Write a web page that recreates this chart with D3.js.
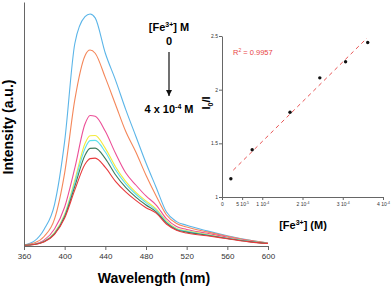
<!DOCTYPE html>
<html>
<head>
<meta charset="utf-8">
<script src="https://cdn.jsdelivr.net/npm/d3@7"></script>
<style>
  body { margin: 0; background: #fff; }
  svg { display: block; font-family: "Liberation Sans", Arial, sans-serif; }
</style>
</head>
<body>
<div id="chart"></div>
<script>
// wavelengths (nm) of the sampled points
var wavelengths = [360, 370, 380, 390, 400, 410, 420, 425, 430, 440, 450, 460, 470, 480, 490, 500, 510, 520, 540, 560, 580, 600];

// emission spectra, 0 -> 4e-4 M Fe3+
var blue   = [5, 20, 70, 170, 430, 830, 940, 951, 935, 790, 680, 560, 450, 340, 240, 140, 100, 85, 62, 42, 25, 12];
var orange = [4, 12, 40, 110, 300, 600, 780, 803, 790, 690, 580, 470, 385, 290, 205, 128, 92, 78, 58, 40, 24, 12];
var pink   = [3, 8, 25, 70, 160, 320, 500, 535, 532, 470, 380, 300, 250, 205, 168, 112, 80, 68, 52, 36, 22, 11];
var yellow = [3, 7, 20, 55, 130, 270, 420, 452, 453, 400, 325, 265, 220, 185, 152, 103, 72, 62, 48, 33, 20, 10];
var cyan   = [3, 7, 20, 52, 125, 260, 400, 432, 433, 385, 312, 255, 212, 178, 147, 99, 70, 60, 46, 32, 20, 10];
var green  = [3, 6, 18, 50, 120, 245, 372, 400, 401, 358, 292, 240, 200, 168, 140, 95, 67, 57, 44, 31, 19, 10];
var red    = [3, 6, 17, 48, 115, 230, 335, 358, 360, 322, 265, 222, 187, 157, 135, 90, 65, 53, 42, 30, 18, 10];

var spectra = [blue, orange, pink, yellow, cyan, green, red];
var spectraColors = ["#5bb5e8", "#f4875a", "#ec4f97", "#f3ea3c", "#5fe0ee", "#3f7b5c", "#e83a3c"];

var xTicks = [360, 400, 440, 480, 520, 560, 600];

// inset: I0/I vs [Fe3+]
var feConc = [2.2e-5, 7.5e-5, 1.69e-4, 2.43e-4, 3.07e-4, 3.62e-4];
var ratio  = [1.17, 1.44, 1.79, 2.11, 2.26, 2.44];
var fitX = [2.8e-5, 3.6e-4];
var fitY = [1.25, 2.48];
var insetYTicks = [1, 1.5, 2, 2.5];
var insetXTicks = [0, 5e-5, 1e-4, 2e-4, 3e-4, 4e-4];
var insetXLabels = [["0", ""], ["5 10", "-5"], ["1 10", "-4"], ["2 10", "-4"], ["3 10", "-4"], ["4 10", "-4"]];

var w = 392, h = 289;
var svg = d3.select("#chart").append("svg")
    .attr("width", w)
    .attr("height", h);

// main plot
var x = d3.scaleLinear().domain([360, 600]).range([24, 268]);
var y = d3.scaleLinear().domain([0, 1000]).range([246, 2]);

var line = d3.line()
    .x(function(d) { return x(d[0]); })
    .y(function(d) { return y(d[1]); })
    .curve(d3.curveMonotoneX);

spectra.forEach(function(s, i) {
  svg.append("path")
      .datum(wavelengths.map(function(wl, j) { return [wl, s[j]]; }))
      .attr("d", line)
      .attr("fill", "none")
      .attr("stroke", spectraColors[i])
      .attr("stroke-width", 1.1);
});

var xAxis = svg.append("g")
    .attr("transform", "translate(0,246)")
    .call(d3.axisBottom(x).tickValues(xTicks).tickSize(4).tickSizeOuter(0));
xAxis.select(".domain").attr("stroke", "#666");
xAxis.selectAll(".tick line").attr("stroke", "#666");
xAxis.selectAll("text").attr("font-size", "8px").attr("fill", "#333")
    .attr("font-family", "Liberation Sans, Arial, sans-serif").attr("dy", "0.75em");

var yAxis = svg.append("g")
    .attr("transform", "translate(24,0)")
    .call(d3.axisLeft(y).tickValues([]).tickSizeOuter(0));
yAxis.select(".domain").attr("stroke", "#666");

svg.append("text")
    .attr("x", 154).attr("y", 283)
    .attr("text-anchor", "middle")
    .attr("font-size", "14px").attr("font-weight", "bold")
    .text("Wavelength (nm)");

svg.append("text")
    .attr("transform", "translate(13,127) rotate(-90)")
    .attr("text-anchor", "middle")
    .attr("font-size", "14px").attr("font-weight", "bold")
    .text("Intensity (a.u.)");

// arrow annotation
var t1 = svg.append("text")
    .attr("x", 169).attr("y", 31)
    .attr("text-anchor", "middle")
    .attr("font-size", "11px").attr("font-weight", "bold");
t1.append("tspan").text("[Fe");
t1.append("tspan").attr("font-size", "7px").attr("dy", "-4").text("3+");
t1.append("tspan").attr("dy", "4").text("] M");

svg.append("text")
    .attr("x", 169).attr("y", 45)
    .attr("text-anchor", "middle")
    .attr("font-size", "11px").attr("font-weight", "bold")
    .text("0");

svg.append("defs").append("marker")
    .attr("id", "arrow")
    .attr("viewBox", "0 0 10 10")
    .attr("refX", 10).attr("refY", 5)
    .attr("markerWidth", 5).attr("markerHeight", 6)
    .attr("orient", "auto")
    .append("path")
    .attr("d", "M0,0 L10,5 L0,10 z")
    .attr("fill", "#111");

svg.append("line")
    .attr("x1", 169).attr("x2", 169)
    .attr("y1", 52).attr("y2", 96)
    .attr("stroke", "#111").attr("stroke-width", 1.2)
    .attr("marker-end", "url(#arrow)");

var t2 = svg.append("text")
    .attr("x", 169).attr("y", 113)
    .attr("text-anchor", "middle")
    .attr("font-size", "11px").attr("font-weight", "bold");
t2.append("tspan").text("4 x 10");
t2.append("tspan").attr("font-size", "7px").attr("dy", "-4").text("-4");
t2.append("tspan").attr("dy", "4").text(" M");

// inset plot
var ix = d3.scaleLinear().domain([0, 4e-4]).range([222, 383]);
var iy = d3.scaleLinear().domain([1, 2.5]).range([197, 36]);

var iyAxis = svg.append("g")
    .attr("transform", "translate(222,0)")
    .call(d3.axisLeft(iy).tickValues(insetYTicks).tickSize(3).tickSizeOuter(0)
      .tickFormat(function(d) { return String(d); }));
iyAxis.select(".domain").attr("stroke", "#666");
iyAxis.selectAll(".tick line").attr("stroke", "#666");
iyAxis.selectAll("text").attr("font-size", "5px").attr("fill", "#333")
    .attr("font-family", "Liberation Sans, Arial, sans-serif").attr("x", -4);

var ixAxis = svg.append("g")
    .attr("transform", "translate(0,197)")
    .call(d3.axisBottom(ix).tickValues(insetXTicks).tickSize(3).tickSizeOuter(0)
      .tickFormat(""));
ixAxis.select(".domain").attr("stroke", "#666");
ixAxis.selectAll(".tick line").attr("stroke", "#666");
ixAxis.selectAll(".tick").each(function(d, i) {
  var lab = d3.select(this).append("text")
      .attr("y", 9)
      .attr("text-anchor", "middle")
      .attr("font-size", "5px").attr("fill", "#333")
      .attr("font-family", "Liberation Sans, Arial, sans-serif");
  lab.append("tspan").text(insetXLabels[i][0]);
  if (insetXLabels[i][1]) {
    lab.append("tspan").attr("font-size", "3.5px").attr("dy", "-2").text(insetXLabels[i][1]);
  }
});

svg.append("line")
    .attr("x1", ix(fitX[0])).attr("y1", iy(fitY[0]))
    .attr("x2", ix(fitX[1])).attr("y2", iy(fitY[1]))
    .attr("stroke", "#e85555").attr("stroke-width", 1)
    .attr("stroke-dasharray", "4,3.5");

svg.selectAll("circle")
    .data(feConc)
    .enter()
    .append("circle")
    .attr("cx", function(d) { return ix(d); })
    .attr("cy", function(d, i) { return iy(ratio[i]); })
    .attr("r", 1.7)
    .attr("fill", "#111");

var r2 = svg.append("text")
    .attr("x", 233).attr("y", 55)
    .attr("font-size", "7.5px").attr("fill", "#e84545");
r2.append("tspan").text("R");
r2.append("tspan").attr("font-size", "5px").attr("dy", "-3").text("2");
r2.append("tspan").attr("dy", "3").text(" = 0.9957");

var iyl = svg.append("text")
    .attr("transform", "translate(210,103) rotate(-90)")
    .attr("text-anchor", "middle")
    .attr("font-size", "11px").attr("font-weight", "bold");
iyl.append("tspan").text("I");
iyl.append("tspan").attr("font-size", "7px").attr("dy", "3").text("0");
iyl.append("tspan").attr("dy", "-3").text("/I");

var ixl = svg.append("text")
    .attr("x", 303).attr("y", 229)
    .attr("text-anchor", "middle")
    .attr("font-size", "11px").attr("font-weight", "bold");
ixl.append("tspan").text("[Fe");
ixl.append("tspan").attr("font-size", "7px").attr("dy", "-4").text("3+");
ixl.append("tspan").attr("dy", "4").text("] (M)");
</script>
</body>
</html>
